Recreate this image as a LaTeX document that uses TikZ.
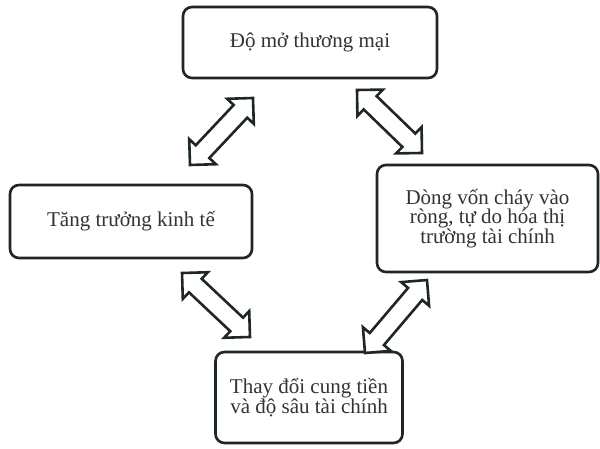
\documentclass[tikz,border=0pt]{standalone}
\usepackage{fontspec}
\setmainfont{Liberation Serif}
\usetikzlibrary{shapes.arrows,calc}
\definecolor{edge}{HTML}{1E2626}
\definecolor{txt}{HTML}{333333}
\begin{document}
\begin{tikzpicture}[x=1pt,y=-1pt,
  box/.style={draw=edge, line width=2.6pt, rounded corners=9pt, fill=white, text=txt,
    align=center, font=\fontsize{21}{19.5}\selectfont, inner sep=0pt},
  dblarrow/.style={double arrow, draw=edge, line width=2.6pt, fill=white,
    inner xsep=0pt, inner ysep=8pt, double arrow head extend=9pt,
    double arrow tip angle=90, minimum width=0pt, anchor=center}]
\useasboundingbox[fill=white] (0,0) rectangle (600,449);

\node[box, minimum width=254pt, minimum height=71pt] (top) at (310,42.5) {Độ mở thương mại};
\node[box, minimum width=242pt, minimum height=73pt] (left) at (131,221.5) {Tăng trưởng kinh tế};
\node[box, minimum width=221pt, minimum height=107pt] (right) at (487.5,218.5)
  {Dòng vốn cháy vào\\ròng, tự do hóa thị\\trường tài chính};
\node[box, minimum width=187pt, minimum height=91pt] (bottom) at (309,397.5)
  {Thay đổi cung tiền\\và độ sâu tài chính};

\coordinate (a1s) at (190,165); \coordinate (a1e) at (253,98);
\coordinate (a2s) at (357,90);  \coordinate (a2e) at (422,153);
\coordinate (a3s) at (182,273); \coordinate (a3e) at (250,337);
\coordinate (a4s) at (365,353); \coordinate (a4e) at (427,280);

\foreach \s/\e/\nm in {a1s/a1e/arr1, a2s/a2e/arr2, a3s/a3e/arr3, a4s/a4e/arr4}{
  \path let \p1=($(\e)-(\s)$), \n1={atan2(\y1,\x1)}, \n2={veclen(\x1,\y1)} in
    node[dblarrow, rotate=\n1, minimum height=\n2] (\nm) at ($(\s)!0.5!(\e)$) {};
}
\end{tikzpicture}
\end{document}
